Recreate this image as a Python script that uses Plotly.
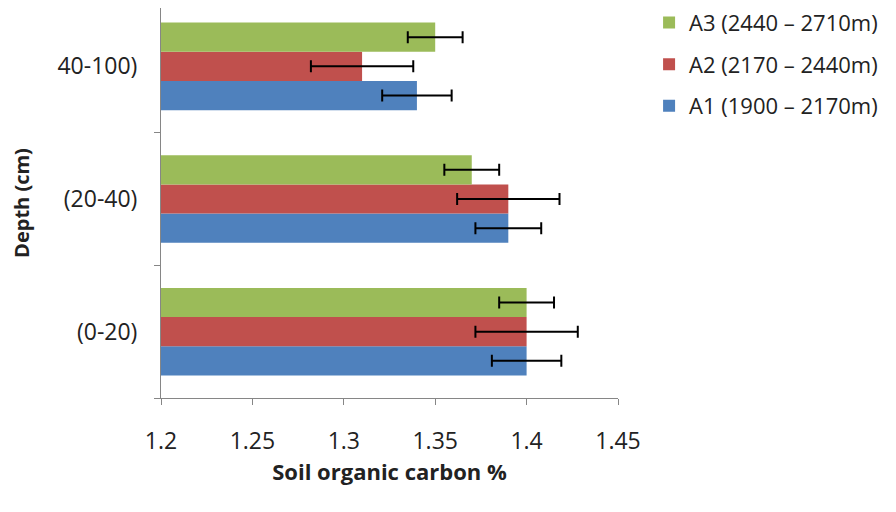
import plotly.graph_objects as go

categories = ["(0-20)", "(20-40)", "40-100)"]
series_names = ["A1 (1900 – 2170m)", "A2 (2170 – 2440m)", "A3 (2440 – 2710m)"]
a1_values = [1.40, 1.39, 1.34]
a2_values = [1.40, 1.39, 1.31]
a3_values = [1.40, 1.37, 1.35]
a1_err = [0.019, 0.018, 0.019]
a2_err = [0.028, 0.028, 0.028]
a3_err = [0.015, 0.015, 0.015]
colors = ["#4F81BD", "#C0504D", "#9BBB59"]
x_ticks = [1.2, 1.25, 1.3, 1.35, 1.4, 1.45]
x_ticklabels = ["1.2", "1.25", "1.3", "1.35", "1.4", "1.45"]

FONT = "Open Sans"
fig = go.Figure()
for i, (name, vals, errs, col) in enumerate(zip(series_names, [a1_values, a2_values, a3_values],
                                 [a1_err, a2_err, a3_err], colors)):
    fig.add_trace(go.Bar(
        y=categories, x=[v - 1.2 for v in vals], base=1.2, orientation="h",
        name=name, marker=dict(color=col, line=dict(width=0)),
        legendgroup=name, legendrank=3 - i,
        error_x=dict(type="data", array=errs, visible=True, color="black",
                     thickness=2, width=6),
    ))

# page body has an 8px margin; figure sized to fit the 896x512 window
fig.update_layout(
    width=888, height=504,
    paper_bgcolor="white", plot_bgcolor="white",
    margin=dict(l=153, r=278, t=0, b=114, autoexpand=False),
    barmode="group", bargap=0.34, bargroupgap=0,
    font=dict(family=FONT, size=23, color="#222"),
    showlegend=True,
    legend=dict(x=1.068, y=1.016, xanchor="left", yanchor="top",
                traceorder="grouped", tracegroupgap=10,
                font=dict(size=22, color="#222"), itemwidth=30),
    xaxis=dict(range=[1.2, 1.45], tickvals=x_ticks, ticktext=x_ticklabels,
               showgrid=False, zeroline=False, showline=True, linecolor="#868686",
               linewidth=1, ticks="outside", ticklen=6, tickcolor="#868686",
               ticklabelstandoff=16, automargin=False,
               tickfont=dict(size=23),
               title=dict(text="<b>Soil organic carbon %</b>", standoff=5,
                          font=dict(size=22))),
    yaxis=dict(range=[-0.5, 2.44], showgrid=False, zeroline=False, showline=True,
               linecolor="#868686", linewidth=1, ticks="outside", ticklen=6,
               tickcolor="#868686", tickson="boundaries", ticklabelstandoff=18,
               automargin=False, tickfont=dict(size=23),
               title=dict(text="<b>Depth (cm)</b>", standoff=38, font=dict(size=20))),
)
fig.write_html("out.html")
